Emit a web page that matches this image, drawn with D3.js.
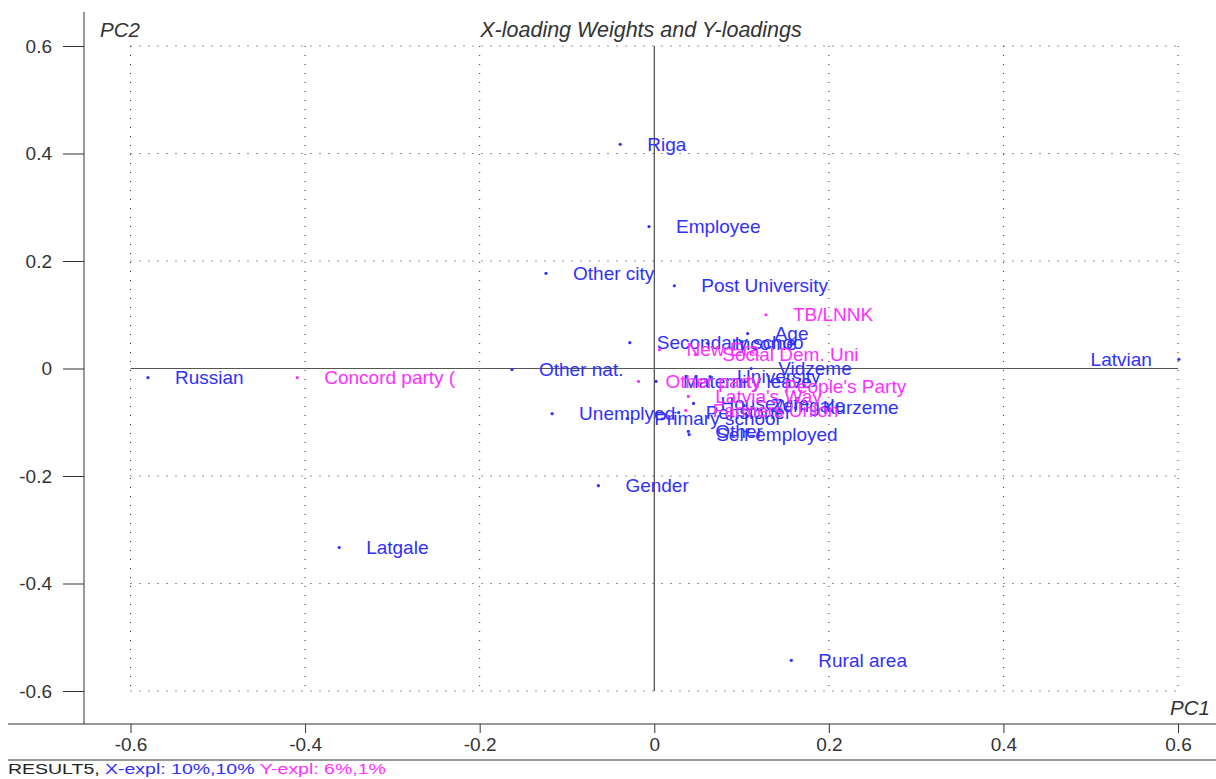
<!DOCTYPE html>
<html>
<head>
<meta charset="utf-8">
<script src="https://cdn.jsdelivr.net/npm/d3@7"></script>
<style>
    body { margin: 0; background: #fff; }
    svg { display: block; font-family: "Liberation Sans", Arial, sans-serif; }
</style>
</head>
<body>
<svg id="chart" width="1216" height="779"></svg>
<script>
// X-loading weights (blue)
var xNames = ['Russian', 'Latgale', 'Other nat.', 'Other city', 'Unemplyed', 'Gender', 'Riga',
    'Secondary schoo', 'Primary school', 'Employee', 'Maternity leave', 'Post University',
    'Pensioner', 'Housewife', 'Other', 'Self-employed', 'University', 'Income', 'Vidzeme',
    'Age', 'Zemgale', 'Kurzeme', 'Latvian', 'Rural area'];
var xPC1 = [-0.580, -0.361, -0.163, -0.124, -0.117, -0.064, -0.039,
    -0.028, -0.031, -0.006, 0.002, 0.023,
    0.028, 0.045, 0.039, 0.040, 0.064, 0.061, 0.111,
    0.107, 0.103, 0.162, 0.601, 0.157];
var xPC2 = [-0.017, -0.333, -0.002, 0.177, -0.084, -0.218, 0.417,
    0.048, -0.093, 0.264, -0.024, 0.154,
    -0.082, -0.065, -0.117, -0.123, -0.015, 0.047, 0.000,
    0.065, -0.069, -0.073, 0.017, -0.543];

// Y-loadings (magenta)
var yNames = ['Concord party (', 'Other party', 'New Era', 'Social Dem. Uni', 'TB/LNNK',
    "People's Party", "Latvia's Way", 'Farmers Union'];
var yPC1 = [-0.409, -0.018, 0.006, 0.047, 0.128, 0.118, 0.039, 0.036];
var yPC2 = [-0.017, -0.024, 0.035, 0.026, 0.100, -0.033, -0.052, -0.078];

var tickValues = [-0.6, -0.4, -0.2, 0, 0.2, 0.4, 0.6];
var tickLabels = ['-0.6', '-0.4', '-0.2', '0', '0.2', '0.4', '0.6'];
var minorTicks = d3.range(-13, 14).map(function (i) { return i * 0.05; });

var CONFIG = {
    blue: '#3030ff',
    magenta: '#ff30ff',
    fontSize: 19,
    titleSize: 21.5,
    labelGap: 27
};

var svg = d3.select('#chart');
var W = 1216;

var x = d3.scaleLinear().domain([-0.6, 0.6]).range([130.5, 1178]);
var y = d3.scaleLinear().domain([-0.6, 0.6]).range([691, 46]);

var axisX = 84, axisTop = 12, axisBottom = 724;

// keep ticks inside the axis frame
var minorX = minorTicks.filter(function (v) { return x(v) > axisX + 2; });
var minorY = minorTicks.filter(function (v) { return y(v) > axisTop + 2 && y(v) < axisBottom - 2; });

/*
 * dotted grid, solid zero lines
 */
var gridVals = tickValues.filter(function (v) { return v !== 0; });
svg.append('g').selectAll('line').data(gridVals).enter().append('line')
    .attr('x1', function (d) { return x(d); }).attr('x2', function (d) { return x(d); })
    .attr('y1', y(0.6)).attr('y2', y(-0.6))
    .style('stroke', '#333').style('stroke-dasharray', '1,8');
svg.append('g').selectAll('line').data(gridVals).enter().append('line')
    .attr('y1', function (d) { return y(d); }).attr('y2', function (d) { return y(d); })
    .attr('x1', x(-0.6)).attr('x2', x(0.6))
    .style('stroke', '#333').style('stroke-dasharray', '1,8');

svg.append('line').attr('x1', x(0)).attr('x2', x(0)).attr('y1', y(0.6)).attr('y2', y(-0.6))
    .style('stroke', '#222');
svg.append('line').attr('x1', x(-0.6)).attr('x2', x(0.6)).attr('y1', y(0)).attr('y2', y(0))
    .style('stroke', '#555');

/*
 * left axis
 */
var gLeft = svg.append('g').attr('transform', 'translate(' + axisX + ',0)');
gLeft.call(d3.axisLeft(y).tickValues(minorY).tickSize(9).tickFormat(''));
gLeft.call(d3.axisLeft(y).tickValues(tickValues).tickSize(21).tickPadding(11)
    .tickFormat(function (d, i) { return tickLabels[i]; }));
gLeft.selectAll('.domain').remove();
gLeft.selectAll('text').style('font-size', CONFIG.fontSize + 'px').style('font-family', 'inherit').attr('fill', '#333');
gLeft.selectAll('line').attr('stroke', '#333');
svg.append('line').attr('x1', axisX).attr('x2', axisX).attr('y1', axisTop).attr('y2', axisBottom)
    .style('stroke', '#333');

/*
 * bottom axis
 */
var gBottom = svg.append('g').attr('transform', 'translate(0,' + axisBottom + ')');
gBottom.call(d3.axisBottom(x).tickValues(minorX).tickSize(5).tickFormat(''));
gBottom.call(d3.axisBottom(x).tickValues(tickValues).tickSize(9).tickPadding(5)
    .tickFormat(function (d, i) { return tickLabels[i]; }));
gBottom.selectAll('.domain').remove();
gBottom.selectAll('text').style('font-size', CONFIG.fontSize + 'px').style('font-family', 'inherit').attr('fill', '#333');
gBottom.selectAll('line').attr('stroke', '#333');
svg.append('line').attr('x1', 8).attr('x2', W).attr('y1', axisBottom).attr('y2', axisBottom)
    .style('stroke', '#333');
svg.append('line').attr('x1', 8).attr('x2', W).attr('y1', 760).attr('y2', 760)
    .style('stroke', '#333');

/*
 * titles
 */
svg.append('text').attr('x', 641).attr('y', 37).attr('text-anchor', 'middle')
    .style('font-style', 'italic').style('font-size', CONFIG.titleSize + 'px').attr('fill', '#333')
    .text('X-loading Weights and Y-loadings');
svg.append('text').attr('x', 100).attr('y', 37)
    .style('font-style', 'italic').style('font-size', '20.5px').attr('fill', '#333')
    .text('PC2');
svg.append('text').attr('x', 1210).attr('y', 715).attr('text-anchor', 'end')
    .style('font-style', 'italic').style('font-size', '20.5px').attr('fill', '#333')
    .text('PC1');

// footer text is squat and wide in the original, so stretch it sideways
var footer = svg.append('text')
    .attr('transform', 'translate(8,774) scale(1.3,1)')
    .style('font-size', '15px');
footer.append('tspan').attr('fill', '#222').text('RESULT5, ');
footer.append('tspan').attr('fill', CONFIG.blue).text('X-expl: 10%,10% ');
footer.append('tspan').attr('fill', CONFIG.magenta).text('Y-expl: 6%,1%');

/*
 * points + labels
 */
function drawSeries(names, pc1, pc2, color) {
    var rows = names.map(function (n, i) { return { name: n, px: pc1[i], py: pc2[i] }; });
    var g = svg.append('g');
    var items = g.selectAll('g').data(rows).enter().append('g')
        .attr('transform', function (d) { return 'translate(' + x(d.px) + ',' + y(d.py) + ')'; });
    items.append('circle')
        .attr('r', 1.6)
        .attr('fill', color);
    items.append('text')
        .attr('x', CONFIG.labelGap)
        .attr('dy', '0.35em')
        .style('font-size', CONFIG.fontSize + 'px')
        .attr('fill', color)
        .text(function (d) { return d.name; })
        .each(function (d) {
            // flip labels that would run off the right edge
            var len = this.getComputedTextLength();
            if (x(d.px) + CONFIG.labelGap + len > W) {
                d3.select(this).attr('x', -CONFIG.labelGap).attr('text-anchor', 'end');
            }
        });
}

drawSeries(xNames, xPC1, xPC2, CONFIG.blue);
drawSeries(yNames, yPC1, yPC2, CONFIG.magenta);
</script>
</body>
</html>
